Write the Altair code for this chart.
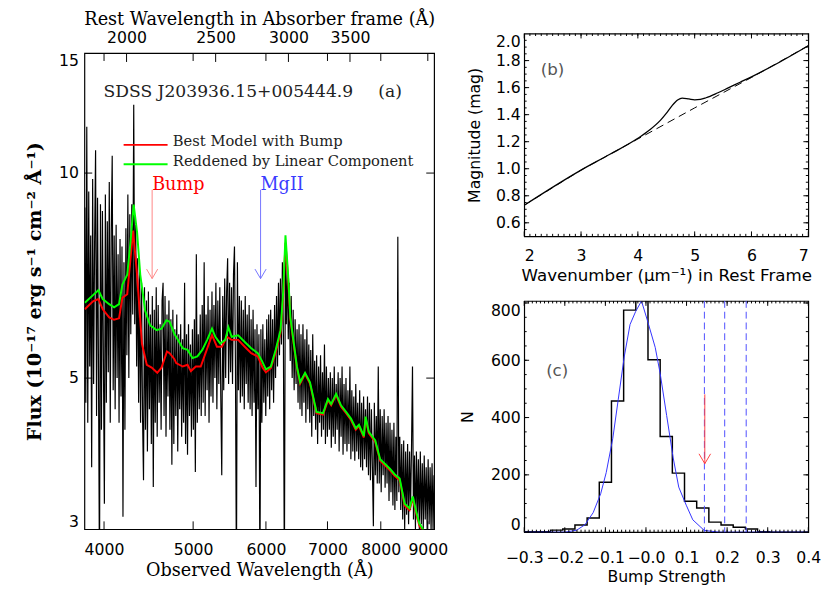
import altair as alt
import numpy as np
import pandas as pd

SERIF = "DejaVu Serif"
SANS = "DejaVu Sans"

# ---------------- panel (a): SDSS spectrum ----------------
# observed flux, one reading per pixel column of the panel (3812 A ... 9141 A, log-lambda grid)
flux_obs = [
    8.9, 4.6, 11.7, 4.3, 9.4, 5.2, 8.1, 3.7, 9.8, 4.9,
    7.9, 10.8, 4.4, 9.2, 5.0, 2.5, 9.0, 4.2, 8.8, 5.3,
    3.27, 9.3, 4.6, 8.5, 5.1, 9.7, 4.3, 8.2, 10.6, 4.8,
    8.1, 4.5, 8.4, 5.0, 7.6, 4.3, 8.0, 4.7, 7.8, 3.13,
    7.4, 4.2, 8.3, 5.4, 9.3, 5.0, 8.7, 5.8, 9.0, 6.2,
    12.6, 6.0, 8.4, 5.2, 7.5, 4.6, 7.2, 4.3, 6.9, 4.4,
    3.54, 6.8, 4.2, 6.5, 3.9, 6.7, 4.5, 6.2, 4.0, 6.6,
    3.46, 6.3, 4.3, 6.8, 4.1, 6.4, 4.6, 6.0, 4.2, 6.5,
    6.9, 4.4, 6.6, 4.1, 6.2, 4.7, 6.5, 4.2, 6.1, 3.73,
    6.3, 4.0, 5.9, 4.4, 6.2, 3.9, 5.8, 4.5, 6.0, 4.1,
    5.7, 4.3, 6.9, 4.0, 5.8, 3.86, 6.0, 4.4, 5.6, 4.1,
    5.9, 4.2, 6.1, 3.64, 7.6, 4.3, 5.8, 4.5, 6.2, 4.4,
    6.4, 4.6, 7.4, 4.4, 6.2, 4.8, 6.6, 4.3, 6.3, 4.7,
    6.7, 4.6, 6.4, 5.0, 6.9, 4.5, 6.5, 4.9, 6.8, 4.7,
    3.6, 6.6, 4.8, 7.0, 5.0, 6.7, 7.5, 4.9, 6.9, 5.1,
    6.8, 4.9, 7.1, 7.8, 5.2, 2.5, 7.4, 4.8, 6.6, 4.6,
    6.5, 4.7, 6.3, 4.5, 6.6, 4.9, 6.2, 4.6, 6.4, 4.5,
    6.1, 4.4, 6.3, 4.6, 5.9, 3.46, 6.0, 4.5, 5.8, 2.5,
    5.9, 4.3, 6.0, 4.6, 5.7, 4.4, 6.1, 4.7, 6.2, 4.5,
    6.3, 4.8, 6.1, 4.6, 6.4, 5.0, 6.6, 5.2, 6.9, 5.4,
    7.0, 5.6, 7.4, 5.8, 2.5, 7.6, 6.0, 7.3, 5.7, 6.9,
    5.3, 6.6, 5.0, 6.3, 4.8, 6.1, 4.9, 5.9, 4.6, 6.0,
    4.5, 5.8, 4.4, 6.0, 4.6, 5.7, 4.3, 5.9, 4.5, 5.6,
    4.3, 5.5, 4.1, 5.8, 4.4, 5.3, 4.2, 5.4, 4.0, 5.2,
    4.3, 5.4, 4.1, 5.1, 4.2, 5.6, 4.0, 5.2, 4.1, 5.0,
    4.2, 5.1, 3.95, 5.0, 4.1, 5.2, 4.0, 4.9, 4.2, 5.1,
    3.9, 5.0, 4.1, 5.2, 3.86, 4.9, 4.0, 5.0, 3.9, 4.8,
    4.0, 5.2, 3.8, 4.8, 3.9, 4.7, 3.78, 4.9, 3.9, 4.6,
    3.8, 4.8, 3.7, 4.6, 3.66, 4.7, 3.8, 4.5, 3.7, 4.7,
    3.6, 4.6, 3.54, 4.5, 3.7, 3.03, 4.6, 3.6, 4.4, 3.5,
    5.2, 3.5, 4.5, 3.4, 4.4, 3.6, 4.5, 3.45, 4.3, 3.5,
    4.4, 3.3, 4.3, 3.4, 4.2, 3.25, 4.3, 3.2, 4.1, 3.3,
    8.06, 3.4, 4.1, 3.2, 4.0, 3.1, 4.05, 3.0, 3.9, 3.15,
    4.0, 3.05, 3.9, 3.2, 3.95, 5.2, 3.1, 3.85, 3.0, 3.9,
    3.1, 3.8, 2.98, 3.9, 3.05, 3.75, 3.0, 3.85, 3.1, 3.7,
    3.0, 3.8, 3.05, 3.7, 2.98, 3.75, 3.0, 3.6,
]
wave_obs = np.geomspace(3812, 9141, len(flux_obs))

red_wave = [3812, 3891, 3944, 3987, 4052, 4102, 4153, 4188, 4239, 4274, 4302, 4345, 4398, 4452,
            4507, 4570, 4619, 4683, 4714, 4772, 4792, 4871, 4931, 4972, 5034, 5096, 5158, 5242,
            5307, 5373, 5439, 5506, 5597, 5690, 5783, 5879, 5951, 6000, 6074, 6148, 6224, 6266,
            6301, 6343, 6379, 6484, 6537, 6618, 6700, 6810, 6923, 7008, 7065, 7153, 7241, 7334,
            7424, 7514, 7575, 7668, 7701, 7763, 7890, 7987, 8052, 8086, 8185, 8286, 8388, 8492,
            8597, 8667, 8739, 8810, 8919]
red_flux = [6.31, 6.48, 6.53, 6.31, 6.14, 6.09, 6.12, 6.56, 6.64, 7.49, 8.23, 7.09, 5.62, 5.23,
            5.18, 5.09, 5.18, 5.47, 5.44, 5.33, 5.26, 5.20, 5.23, 5.12, 5.20, 5.20, 5.44, 5.78,
            5.56, 5.56, 5.75, 5.69, 5.69, 5.56, 5.44, 5.38, 5.18, 5.10, 5.17, 5.45, 5.83, 6.60,
            7.90, 7.00, 6.10, 5.18, 4.91, 5.07, 4.91, 4.44, 4.42, 4.64, 4.56, 4.72, 4.54, 4.44,
            4.34, 4.20, 4.25, 4.09, 4.37, 4.15, 4.03, 3.78, 3.74, 3.72, 3.66, 3.59, 3.54, 3.25,
            3.20, 3.33, 3.17, 3.04, 2.96]

green_wave = [3812, 3891, 3944, 3987, 4052, 4102, 4153, 4188, 4239, 4274, 4308, 4345, 4380, 4434,
              4488, 4563, 4619, 4676, 4714, 4772, 4792, 4871, 4931, 4992, 5053, 5116, 5179, 5242,
              5286, 5352, 5418, 5462, 5506, 5597, 5690, 5783, 5879, 5940, 6000, 6074, 6148, 6224,
              6266, 6301, 6343, 6379, 6484, 6537, 6618, 6700, 6810, 6923, 7008, 7065, 7153, 7241,
              7334, 7424, 7514, 7575, 7668, 7701, 7763, 7890, 7987, 8052, 8086, 8185, 8286, 8388,
              8492, 8597, 8667, 8739, 8810, 8919]
green_flux = [6.45, 6.62, 6.73, 6.53, 6.42, 6.35, 6.42, 6.86, 7.09, 7.92, 8.99, 8.19, 7.09, 6.28,
              5.98, 5.88, 5.91, 6.08, 6.05, 5.80, 5.75, 5.53, 5.50, 5.35, 5.38, 5.50, 5.69, 5.91,
              5.75, 5.62, 5.69, 5.94, 5.75, 5.78, 5.65, 5.53, 5.44, 5.30, 5.15, 5.20, 5.50, 5.88,
              6.71, 8.10, 7.09, 6.14, 5.20, 4.93, 5.09, 4.93, 4.46, 4.44, 4.66, 4.58, 4.74, 4.56,
              4.46, 4.36, 4.22, 4.27, 4.11, 4.39, 4.17, 4.05, 3.80, 3.76, 3.74, 3.68, 3.61, 3.56,
              3.27, 3.22, 3.35, 3.19, 3.06, 2.98]

one_plus_z = 2.116
a_xdomain = [3808, 9143]
a_ydomain = [3, 15]
a_xticks = [4000, 5000, 6000, 7000, 8000, 9000]
a_yticks = [3, 5, 10, 15]
a_rest_ticks = [2000, 2500, 3000, 3500]

legend_labels = ["Best Model with Bump", "Reddened by Linear Component"]
legend_colors = ["#ff0000", "#00ff00"]
legend_line_y = [11.0, 10.30]
legend_text_y = [10.96, 10.25]

arrow_labels = ["Bump", "MgII"]
arrow_wave = [4512, 5920]
arrow_top = [9.45, 9.45]
arrow_tip = [7.0, 7.0]
arrow_line_colors = ["#ff8585", "#7373ff"]
arrow_text_colors = ["#ff0000", "#3b3bff"]

# ---------------- panel (b): extinction curve ----------------
b_wn_line = [2, 3, 4, 5, 6, 7]
b_mag_line = [0.73, 0.99, 1.22, 1.45, 1.675, 1.91]
b_wn_bump = [2, 3, 3.5, 4, 4.2, 4.4, 4.5, 4.6, 4.7, 4.78, 4.9, 5.0, 5.1, 5.2, 5.4, 5.6, 5.8, 6, 6.5, 7]
b_mag_bump = [0.73, 0.99, 1.105, 1.225, 1.285, 1.36, 1.41, 1.465, 1.508, 1.523, 1.516, 1.51,
              1.513, 1.525, 1.56, 1.60, 1.64, 1.68, 1.79, 1.91]

# ---------------- panel (c): bump strength distribution ----------------
hist_left = [-0.305, -0.265, -0.235, -0.205, -0.175, -0.145, -0.115, -0.085, -0.055, -0.025,
             0.005, 0.035, 0.065, 0.095, 0.125, 0.155, 0.185, 0.215, 0.245, 0.275, 0.305, 0.41]
hist_count = [1, 1, 7, 11, 25, 49, 174, 458, 775, 830, 602, 334, 206, 108, 84, 35, 25, 17, 11, 1, 0, 0]
gauss_x = [-0.30, -0.1986, -0.1704, -0.1503, -0.1301, -0.1116, -0.0979, -0.0818, -0.0682, -0.0537,
           -0.0392, -0.0255, -0.0110, 0.0027, 0.0228, 0.0349, 0.0510, 0.0671, 0.0808, 0.0993,
           0.1154, 0.1436, 0.1798, 0.40]
gauss_y = [0, 0, 7, 26, 68, 134, 208, 327, 464, 611, 725, 770, 807, 743, 645, 555, 407, 259, 157,
           94, 43, 6, 0, 0]
sigma_lines = [0.144, 0.194, 0.247]
c_arrow_x = [0.145]
c_arrow_top = [481]
c_arrow_tip = [239]

W_A, H_A = 357, 486
STRIP_H = 17
W_B, H_B = 290, 207
W_C, H_C = 290, 236

HEAD = "M-1,-1.7L0,0L1,-1.7"


def frame_ticks(xvals, yvals, X, Y, W, H, L, lw=1.0):
    dx = pd.DataFrame({"tx": xvals})
    dy = pd.DataFrame({"ty": yvals})
    out = []
    if len(xvals):
        out.append(alt.Chart(dx).mark_rule(color="black", strokeWidth=lw).encode(
            x=X("tx"), y=alt.value(H), y2=alt.value(H - L)))
        out.append(alt.Chart(dx).mark_rule(color="black", strokeWidth=lw).encode(
            x=X("tx"), y=alt.value(0), y2=alt.value(L)))
    if len(yvals):
        out.append(alt.Chart(dy).mark_rule(color="black", strokeWidth=lw).encode(
            y=Y("ty"), x=alt.value(0), x2=alt.value(L)))
        out.append(alt.Chart(dy).mark_rule(color="black", strokeWidth=lw).encode(
            y=Y("ty"), x=alt.value(W), x2=alt.value(W - L)))
    return out


# ---- panel (a)
sx_a = alt.Scale(type="log", domain=a_xdomain, nice=False)
sy_a = alt.Scale(type="log", domain=a_ydomain, nice=False)
ax_a_x = alt.Axis(values=a_xticks, format="d", labelPadding=13, labelFlush=False,
                  title="Observed Wavelength (Å)", titleFont=SERIF, titleFontSize=18,
                  titlePadding=4, labelOverlap=False)
ax_a_y = alt.Axis(values=a_yticks, format="d", labelFlush=True, labelPadding=6,
                  title="Flux (10⁻¹⁷ erg s⁻¹ cm⁻² Å⁻¹)", titleFont=SERIF,
                  titleFontWeight="bold", titleFontSize=19.5, titlePadding=14, labelOverlap=False)


def XA(f):
    return alt.X(f, type="quantitative", scale=sx_a, axis=ax_a_x)


def YA(f):
    return alt.Y(f, type="quantitative", scale=sy_a, axis=ax_a_y)


spec = alt.Chart(pd.DataFrame({"x": wave_obs, "y": flux_obs})).mark_line(
    color="black", strokeWidth=1.2, clip=True).encode(x=XA("x"), y=YA("y"))
red = alt.Chart(pd.DataFrame({"x": red_wave, "y": red_flux})).mark_line(
    color="#ff0000", strokeWidth=2, clip=True).encode(x=XA("x"), y=YA("y"))
green = alt.Chart(pd.DataFrame({"x": green_wave, "y": green_flux})).mark_line(
    color="#00ff00", strokeWidth=2, clip=True).encode(x=XA("x"), y=YA("y"))

leg_df = pd.DataFrame({"x": [4201, 4201], "x2": [4690, 4690], "y": legend_line_y,
                       "ty": legend_text_y, "tx": [4752, 4752], "c": legend_colors,
                       "label": legend_labels})
leg_rule = alt.Chart(leg_df).mark_rule(strokeWidth=2).encode(
    x=XA("x"), x2="x2", y=YA("y"), color=alt.Color("c:N", scale=None))
leg_text = alt.Chart(leg_df).mark_text(align="left", baseline="alphabetic", font=SERIF,
                                       fontSize=15, color="#222").encode(
    x=XA("tx"), y=YA("ty"), text="label:N")

title_df = pd.DataFrame({"x": [3995, 7950], "y": [12.94, 12.94],
                         "t": ["SDSS J203936.15+005444.9", "(a)"]})
title_a = alt.Chart(title_df).mark_text(align="left", baseline="alphabetic", font=SERIF,
                                        fontSize=17.5, color="#222").encode(
    x=XA("x"), y=YA("y"), text="t:N")

arr_df = pd.DataFrame({"x": arrow_wave, "y": arrow_top, "y2": arrow_tip,
                       "lc": arrow_line_colors, "tc": arrow_text_colors, "t": arrow_labels})
arr_rule = alt.Chart(arr_df).mark_rule(strokeWidth=1).encode(
    x=XA("x"), y=YA("y"), y2="y2", color=alt.Color("lc:N", scale=None))
arr_head = alt.Chart(arr_df).mark_point(shape=HEAD, filled=False, size=130, strokeWidth=1,
                                        opacity=1).encode(
    x=XA("x"), y=YA("y2"), stroke=alt.Color("lc:N", scale=None))
arr_text = alt.Chart(arr_df).mark_text(align="left", baseline="alphabetic", font=SERIF,
                                       fontSize=18).encode(
    x=XA("x"), y=YA("y"), text="t:N", color=alt.Color("tc:N", scale=None))

a_ticks = frame_ticks(a_xticks, [5, 10], XA, YA, W_A, H_A, 8)

# inward ticks of the rest-frame axis, placed on the observed-wavelength scale
top_ticks = alt.Chart(pd.DataFrame({"r": a_rest_ticks})).transform_calculate(
    obs=f"datum.r * {one_plus_z}").mark_rule(color="black").encode(
    x=XA("obs"), y=alt.value(0), y2=alt.value(9))

panel_a = alt.layer(spec, red, green, leg_rule, leg_text, title_a, arr_rule, arr_head,
                    arr_text, top_ticks, *a_ticks).properties(width=W_A, height=H_A)

# strip carrying the rest-frame (top) axis labels and title
sx_top = alt.Scale(type="log", domain=[a_xdomain[0] / one_plus_z, a_xdomain[1] / one_plus_z],
                   nice=False)
ax_top = alt.Axis(orient="top", offset=-STRIP_H, values=a_rest_ticks, format="d",
                  labelPadding=5, labelFlush=False,
                  title="Rest Wavelength in Absorber frame (Å)", titleFont=SERIF,
                  titleFontSize=18, titlePadding=1, labelOverlap=False)
strip = alt.Chart(pd.DataFrame({"r": a_rest_ticks})).mark_rule(strokeOpacity=0).encode(
    x=alt.X("r", type="quantitative", scale=sx_top, axis=ax_top)
).properties(width=W_A, height=STRIP_H, view=alt.ViewBackground(stroke="transparent"))

left = alt.vconcat(strip, panel_a, spacing=0)

# ---- panel (b)
sx_b = alt.Scale(domain=[2, 7], nice=False, zero=False)
sy_b = alt.Scale(domain=[0.5, 2.0], nice=False, zero=False)
ax_b_x = alt.Axis(values=[2, 3, 4, 5, 6, 7], format="d", labelFlush=True, labelPadding=12,
                  title="Wavenumber (μm⁻¹) in Rest Frame", titleFontSize=17, titlePadding=4,
                  labelOverlap=False)
ax_b_y = alt.Axis(values=[0.6, 0.8, 1.0, 1.2, 1.4, 1.6, 1.8, 2.0], format=".1f",
                  labelFlush=True, labelPadding=4, title="Magnitude (mag)", titlePadding=13,
                  labelOverlap=False)


def XB(f):
    return alt.X(f, type="quantitative", scale=sx_b, axis=ax_b_x)


def YB(f):
    return alt.Y(f, type="quantitative", scale=sy_b, axis=ax_b_y)


b_dash = alt.Chart(pd.DataFrame({"x": b_wn_line, "y": b_mag_line})).mark_line(
    color="black", strokeWidth=1, strokeDash=[8, 5]).encode(x=XB("x"), y=YB("y"))
b_solid = alt.Chart(pd.DataFrame({"x": b_wn_bump, "y": b_mag_bump})).mark_line(
    color="black", strokeWidth=1.3, interpolate="monotone").encode(x=XB("x"), y=YB("y"))
b_label = alt.Chart(pd.DataFrame({"x": [2.29], "y": [1.73], "t": ["(b)"]})).mark_text(
    align="left", baseline="middle", font=SANS, fontSize=17, color="#555").encode(
    x=XB("x"), y=YB("y"), text="t:N")
b_ticks = (frame_ticks(np.arange(2, 7.01, 1.0), np.arange(0.6, 1.81, 0.2), XB, YB, W_B, H_B, 5)
           + frame_ticks(np.arange(2.1, 6.95, 0.1), np.arange(0.55, 1.99, 0.05), XB, YB,
                         W_B, H_B, 2.5))
panel_b = alt.layer(b_dash, b_solid, b_label, *b_ticks).properties(width=W_B, height=H_B)

# ---- panel (c)
sx_c = alt.Scale(domain=[-0.3, 0.4], nice=False, zero=False)
sy_c = alt.Scale(domain=[0, 807], nice=False)
c_xvals = [-0.3, -0.2, -0.1, 0.0, 0.1, 0.2, 0.3, 0.4]
ax_c_x = alt.Axis(values=c_xvals, labelFlush=False, labelPadding=18,
                  labelExpr="datum.value < 0.05 ? '\u2212' + format(abs(datum.value), '.1f') : format(datum.value, '.1f')",
                  title="Bump Strength", titlePadding=3, labelOverlap=False)
ax_c_y = alt.Axis(values=[0, 200, 400, 600, 800], format="d", labelFlush=5, labelPadding=4,
                  title="N", titlePadding=15, labelOverlap=False)


def XC(f):
    return alt.X(f, type="quantitative", scale=sx_c, axis=ax_c_x)


def YC(f):
    return alt.Y(f, type="quantitative", scale=sy_c, axis=ax_c_y)


c_hist = alt.Chart(pd.DataFrame({"x": hist_left, "y": hist_count})).mark_line(
    color="black", strokeWidth=1.5, interpolate="step-after", clip=True).encode(
    x=XC("x"), y=YC("y"))
c_gauss = alt.Chart(pd.DataFrame({"x": gauss_x, "y": gauss_y})).mark_line(
    color="#3030ff", strokeWidth=1, clip=True).encode(x=XC("x"), y=YC("y"))
c_sigma = alt.Chart(pd.DataFrame({"x": sigma_lines})).mark_rule(
    color="#4d4dff", strokeDash=[7, 4], strokeWidth=1).encode(x=XC("x"))
c_arr_df = pd.DataFrame({"x": c_arrow_x, "y": c_arrow_top, "y2": c_arrow_tip})
c_arr = alt.Chart(c_arr_df).mark_rule(color="#ff4040", strokeWidth=1).encode(
    x=XC("x"), y=YC("y"), y2="y2")
c_head = alt.Chart(c_arr_df).mark_point(shape=HEAD, filled=False, size=140, strokeWidth=1,
                                        color="#ff4040", opacity=1).encode(
    x=XC("x"), y=YC("y2"))
c_label = alt.Chart(pd.DataFrame({"x": [-0.246], "y": [563], "t": ["(c)"]})).mark_text(
    align="left", baseline="middle", font=SANS, fontSize=17, color="#555").encode(
    x=XC("x"), y=YC("y"), text="t:N")
c_ticks = (frame_ticks(np.arange(-0.3, 0.401, 0.1), np.arange(0, 801, 200), XC, YC, W_C, H_C, 5)
           + frame_ticks(np.arange(-0.29, 0.395, 0.01), np.arange(50, 801, 50), XC, YC,
                         W_C, H_C, 2.5))
panel_c = alt.layer(c_hist, c_gauss, c_sigma, c_arr, c_head, c_label, *c_ticks).properties(
    width=W_C, height=H_C)

right = alt.vconcat(panel_b, panel_c, spacing=15)
chart = alt.hconcat(left, right, spacing=10).properties(
    padding={"left": 17, "top": -4, "right": 0, "bottom": 0}
).configure_view(stroke="black", strokeWidth=1.2).configure_axis(
    grid=False, domain=False, ticks=False, tickSize=0, labelFont=SANS, labelFontSize=16,
    titleFont=SANS, titleFontSize=16, titleFontWeight="normal", labelColor="black",
    titleColor="black")

chart.save("out.html", embed_options={"renderer": "svg", "actions": False})
